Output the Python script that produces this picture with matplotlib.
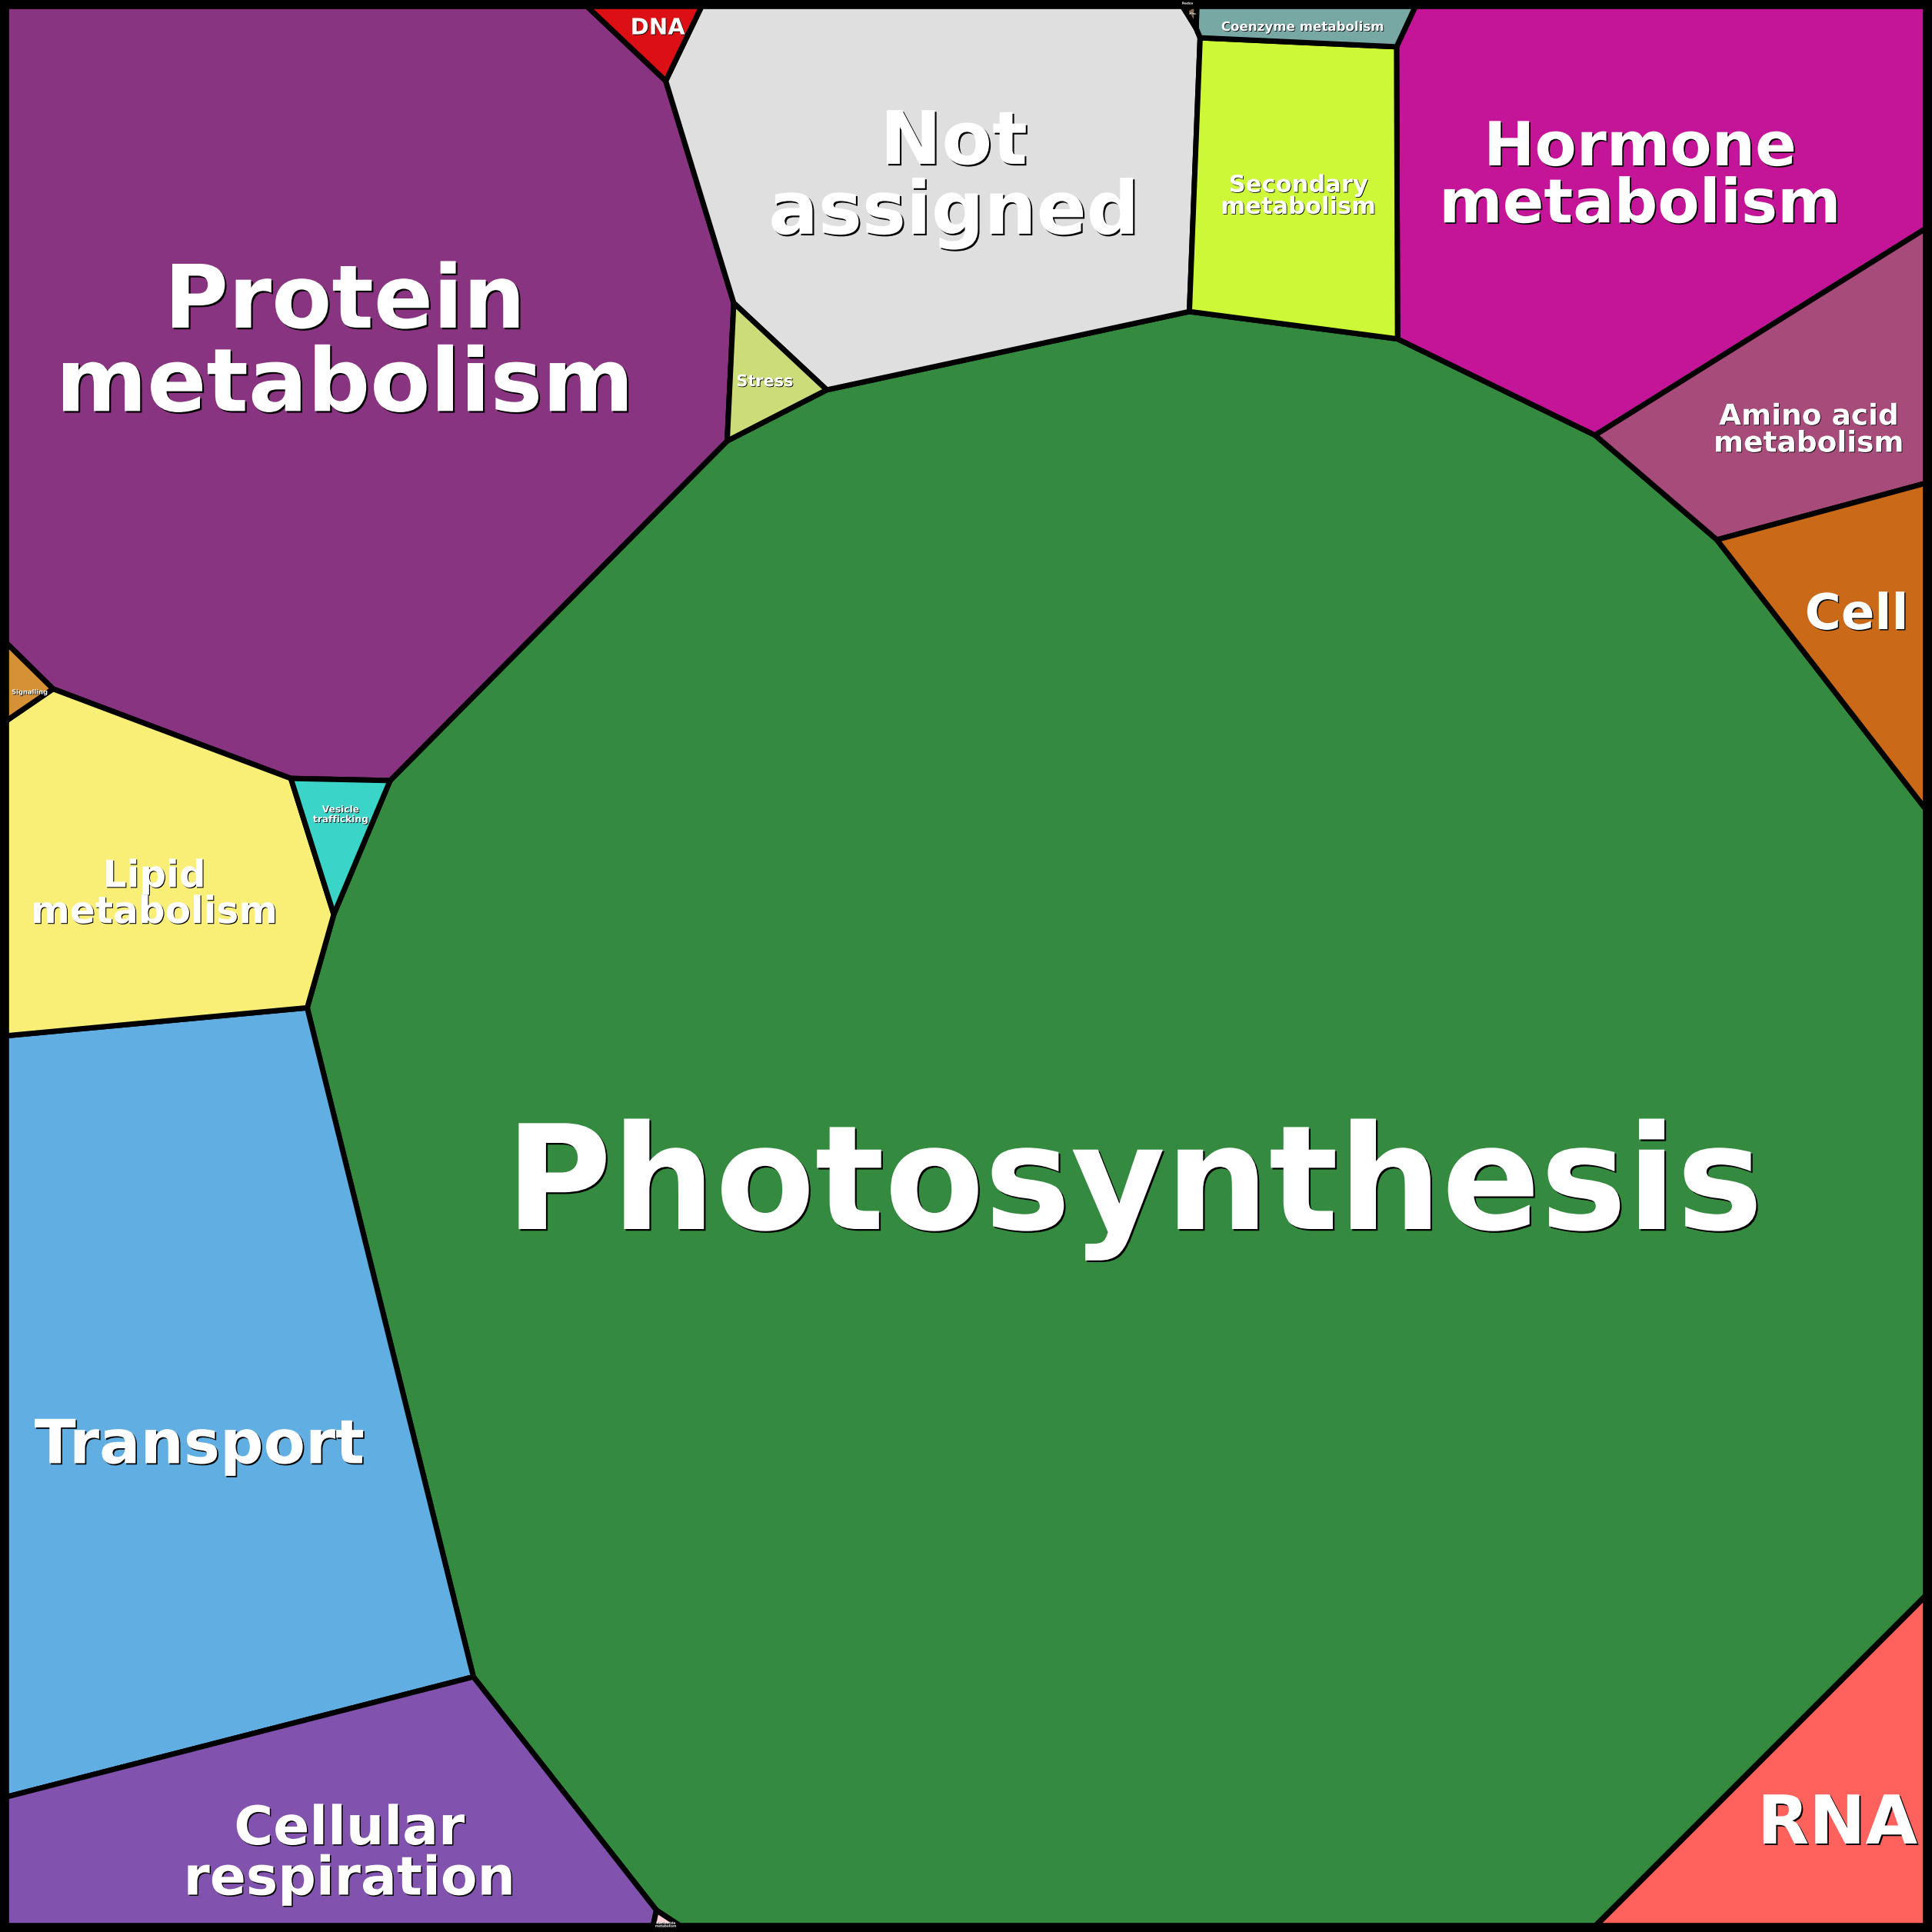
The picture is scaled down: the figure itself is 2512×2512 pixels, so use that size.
import numpy as np
import matplotlib
matplotlib.use("Agg")
import matplotlib.pyplot as plt
from matplotlib import patheffects as pe
from matplotlib.patches import Polygon, Rectangle

# ---------------- data ----------------
categories = [
    "Photosynthesis", "Protein metabolism", "Transport", "Hormone metabolism",
    "Not assigned", "Cellular respiration", "Lipid metabolism",
    "Amino acid metabolism", "Secondary metabolism", "RNA", "Cell",
    "Coenzyme metabolism", "Vesicle trafficking", "Stress", "DNA",
    "Signalling", "Nucleotide metabolism", "Misc", "Redox",
]
values = [
    58.0, 12.86, 7.67, 5.03,
    4.63, 3.15, 2.45,
    1.56, 1.54, 1.58, 0.97,
    0.24, 0.18, 0.18, 0.135,
    0.063, 0.011, 0.004, 0.003,
]
labels = [
    "Photosynthesis", "Protein\nmetabolism", "Transport", "Hormone\nmetabolism",
    "Not\nassigned", "Cellular\nrespiration", "Lipid\nmetabolism",
    "Amino acid\nmetabolism", "Secondary\nmetabolism", "RNA", "Cell",
    "Coenzyme metabolism", "Vesicle\ntrafficking", "Stress", "DNA",
    "Signalling", "Nucleotide\nmetabolism", "Misc", "Redox",
]

# ---------------- styles / layout ----------------
colors = [
    "#348a3f", "#883480", "#60aee2", "#c41599",
    "#dfdfdf", "#8153ae", "#f9ef76",
    "#a64b7a", "#cdf838", "#ff625d", "#ca6a18",
    "#78a8a4", "#3ad5c8", "#ccdc78", "#dc0f14",
    "#d69036", "#ffcfd8", "#8b6b50", "#ff33cc",
]
font_sizes = [
    136, 82, 57, 57,
    69, 50, 35,
    27, 22, 63, 46.3,
    12, 8.8, 15, 21,
    6, 3, 2.5, 3,
]
# small label nudges (in 1568-unit frame, y down), relative to cell centroid
label_nudge = [
    (-16, 25), (9, -7), (3, 32), (-5, -3),
    (9, 6), (23, 16), (6, 14),
    (6, 19), (1, 9), (16, 6), (-3, 2),
    (-3, 5), (2, -8), (2, 3), (6, 1),
    (10, 7), (0, 0), (0, 0), (0, 0),
]
# generator sites of the (power) Voronoi treemap, in a 1568-unit frame, y down
site_px = [
    (950, 950), (285, 290), (165, 1145), (1340, 150),
    (775, 140), (255, 1495), (125, 715),
    (1465, 350), (1055, 151), (1474, 1474), (1510, 516),
    (1061, 20), (277, 667), (620, 306), (536, 25),
    (19, 560), (549, 1557), (974, 18), (968, 9),
]

S = np.array(site_px, dtype=float) / 1568.0
n = len(S)
S2 = (S ** 2).sum(axis=1)
T = np.array(values, dtype=float)
T = T / T.sum()
square = [np.array([0.0, 0.0]), np.array([1.0, 0.0]),
          np.array([1.0, 1.0]), np.array([0.0, 1.0])]


def clip(poly, a, b):
    out = []
    m = len(poly)
    for k in range(m):
        P = poly[k]
        Q = poly[(k + 1) % m]
        fp = a @ P - b
        fq = a @ Q - b
        if fp <= 0:
            out.append(P)
        if fp * fq < 0:
            t = fp / (fp - fq)
            out.append(P + t * (Q - P))
    return out


def cells(w):
    polys = []
    for i in range(n):
        poly = list(square)
        for j in range(n):
            if j == i:
                continue
            a = 2 * (S[j] - S[i])
            b = S2[j] - S2[i] - w[j] + w[i]
            poly = clip(poly, a, b)
            if len(poly) < 3:
                poly = []
                break
        polys.append(poly)
    return polys


def parea(poly):
    if len(poly) < 3:
        return 0.0
    p = np.array(poly)
    x, y = p[:, 0], p[:, 1]
    return 0.5 * abs(np.dot(x, np.roll(y, -1)) - np.dot(y, np.roll(x, -1)))


def areas(w):
    return np.array([parea(p) for p in cells(w)])


def rel_err(A):
    return np.sqrt(np.sum(((A - T) / T) ** 2))


w = np.zeros(n)
A = areas(w)
eps = 1e-8
for it in range(80):
    if np.max(np.abs(A - T) / T) < 1e-4:
        break
    J = np.zeros((n, n))
    for j in range(n):
        w2 = w.copy()
        w2[j] += eps
        J[:, j] = (areas(w2) - A) / eps
    delta = np.linalg.lstsq(J, T - A, rcond=None)[0]
    e0 = rel_err(A)
    t = 1.0
    accepted = False
    for _ in range(40):
        wn = w + t * delta
        An = areas(wn)
        if An.min() > 0 and rel_err(An) < e0:
            w, A = wn, An
            accepted = True
            break
        t *= 0.5
    if not accepted:
        break

polys = cells(w)

# ---------------- draw ----------------
fig = plt.figure(figsize=(25.12, 25.12), dpi=100)
ax = fig.add_axes([0, 0, 1, 1])
ax.set_xlim(0, 1)
ax.set_ylim(1, 0)
ax.axis("off")

for i, poly in enumerate(polys):
    if len(poly) < 3:
        continue
    ax.add_patch(Polygon(np.array(poly), closed=True, facecolor=colors[i],
                         edgecolor="black", linewidth=5, joinstyle="miter"))

ax.add_patch(Rectangle((0, 0), 1, 1, fill=False, edgecolor="black",
                       linewidth=17, clip_on=True))


def centroid(poly):
    p = np.array(poly)
    x, y = p[:, 0], p[:, 1]
    xn, yn = np.roll(x, -1), np.roll(y, -1)
    cr = x * yn - xn * y
    a = cr.sum() / 2
    return (np.sum((x + xn) * cr) / (6 * a), np.sum((y + yn) * cr) / (6 * a))


for i, poly in enumerate(polys):
    if len(poly) < 3:
        continue
    cx, cy = centroid(poly)
    cx += label_nudge[i][0] / 1568.0
    cy += label_nudge[i][1] / 1568.0
    fs = font_sizes[i]
    off = max(0.6, min(1.6, fs / 45.0))
    ax.text(cx, cy, labels[i], ha="center", va="center", fontsize=fs,
            fontweight="bold", color="white", family="DejaVu Sans",
            linespacing=0.97,
            path_effects=[pe.withSimplePatchShadow(offset=(off, -off),
                                                   shadow_rgbFace="black",
                                                   alpha=1.0)])

fig.savefig("out.png", dpi=100, facecolor="white")
